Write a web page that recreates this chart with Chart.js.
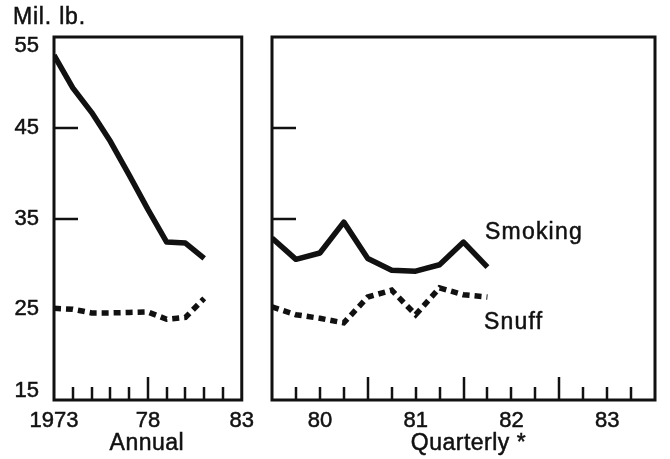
<!DOCTYPE html>
<html><head><meta charset="utf-8">
<script src="https://cdn.jsdelivr.net/npm/chart.js@4"></script>
<style>
html,body{margin:0;padding:0;background:#fff;}
#wrap{position:relative;width:670px;height:459px;overflow:hidden;background:#fff;}
.panel{position:absolute;top:0;height:459px;}
</style></head><body>
<div id="wrap">
  <div class="panel" style="left:0;width:262px"><canvas id="c1"></canvas></div>
  <div class="panel" style="left:262px;width:408px"><canvas id="c2"></canvas></div>
</div>
<script>
// ---- data ----
const annualYears = [1973, 1974, 1975, 1976, 1977, 1978, 1979, 1980, 1981];
const annualSmoking = [53.0, 49.4, 46.7, 43.5, 39.8, 36.0, 32.4, 32.3, 30.6];
const annualSnuff = [25.1, 25.0, 24.6, 24.6, 24.65, 24.7, 23.9, 24.1, 26.2];

const quarterIndex = [0, 1, 2, 3, 4, 5, 6, 7, 8, 9]; // 1980 Q1 ... 1982 Q2
const quarterlySmoking = [32.85, 30.5, 31.2, 34.6, 30.6, 29.3, 29.2, 29.9, 32.4, 29.65];
const quarterlySnuff = [25.25, 24.4, 24.0, 23.5, 26.35, 27.1, 24.4, 27.35, 26.6, 26.35];

const yTickValues = [15, 25, 35, 45, 55];
const yInnerTicks = [35, 45];
const annualLabelYears = [1973, 1978, 1983];
const annualLabelText = ['1973', '78', '83'];
const annualMajorTicks = [1978];
const quarterLabelPos = [2, 6, 10, 14];
const quarterLabelText = ['80', '81', '82', '83'];
const quarterMajorTicks = [4, 8, 12];
const unitLabel = 'Mil. lb.';
const seriesNames = ['Smoking', 'Snuff'];
const axisTitles = ['Annual', 'Quarterly *'];

// ---- styling ----
const FONT = '"Liberation Sans", Arial, Helvetica, sans-serif';
const INK = '#111';
Chart.defaults.font.family = FONT;
Chart.defaults.color = INK;

function drawText(ctx, t) {
  ctx.font = t.size + 'px ' + FONT;
  if ('letterSpacing' in ctx) ctx.letterSpacing = (t.ls || 0) + 'px';
  ctx.textAlign = t.align || 'left';
  ctx.fillText(t.text, t.x, t.y);
  ctx.strokeText(t.text, t.x, t.y);
}

const panelPlugin = {
  id: 'panel',
  afterDatasetsDraw(chart, args, opts) {
    const {ctx, chartArea: a, scales: {x, y}} = chart;
    ctx.save();
    ctx.strokeStyle = INK;
    ctx.lineCap = 'butt';
    ctx.lineWidth = 2.5;
    x.ticks.forEach(t => {
      if (t.value <= x.min || t.value >= x.max) return;
      const px = Math.round(x.getPixelForValue(t.value));
      const len = opts.major.includes(t.value) ? 23 : 13;
      ctx.beginPath(); ctx.moveTo(px, a.bottom); ctx.lineTo(px, a.bottom - len); ctx.stroke();
    });
    yInnerTicks.forEach(v => {
      const py = Math.round(y.getPixelForValue(v));
      ctx.beginPath(); ctx.moveTo(a.left, py); ctx.lineTo(a.left + 24, py); ctx.stroke();
    });
    ctx.lineWidth = 3;
    ctx.strokeRect(a.left, a.top, a.right - a.left, a.bottom - a.top);
    ctx.fillStyle = INK;
    ctx.textBaseline = 'alphabetic';
    ctx.lineWidth = 0.5;
    // axis title centred under the x scale
    drawText(ctx, {text: opts.title, x: (x.left + x.right) / 2 + (opts.titleShift || 0), y: 450, size: 23, align: 'center', ls: 0.5});
    (opts.texts || []).forEach(t => drawText(ctx, t));
    ctx.restore();
  }
};

function toPoints(xs, ys) { return xs.map((v, i) => ({x: v, y: ys[i]})); }

function lineDatasets(xs, smoke, snuff) {
  return [
    {label: seriesNames[0], data: toPoints(xs, smoke), borderColor: INK, borderWidth: 5.5,
     pointRadius: 0, tension: 0, borderJoinStyle: 'round', borderCapStyle: 'butt', fill: false},
    {label: seriesNames[1], data: toPoints(xs, snuff), borderColor: INK, borderWidth: 5.5,
     borderDash: [7, 5], pointRadius: 0, tension: 0, borderJoinStyle: 'miter', borderCapStyle: 'butt', fill: false}
  ];
}

const yScaleBase = {
  min: 15, max: 55,
  afterBuildTicks: s => { s.ticks = yTickValues.map(v => ({value: v})); },
  grid: {display: false, drawTicks: false},
  border: {display: false}
};

const tickStroke = {textStrokeColor: INK, textStrokeWidth: 0.5};

new Chart(document.getElementById('c1'), {
  type: 'line',
  data: {datasets: lineDatasets(annualYears, annualSmoking, annualSnuff)},
  options: {
    responsive: true, maintainAspectRatio: false, animation: false,
    layout: {padding: {top: 37, right: 18, left: 0, bottom: 0}},
    plugins: {legend: {display: false}, tooltip: {enabled: false},
      panel: {major: annualMajorTicks, title: axisTitles[0], titleShift: -1,
        texts: [{text: unitLabel, x: 13, y: 24, size: 23, ls: 0.8}]}},
    scales: {
      x: {type: 'linear', min: 1973, max: 1983,
        ticks: Object.assign({stepSize: 1, autoSkip: false, maxRotation: 0, padding: 8, font: {size: 22},
          callback: v => { const i = annualLabelYears.indexOf(v); return i >= 0 ? annualLabelText[i] : ''; }}, tickStroke),
        grid: {display: false, drawTicks: false}, border: {display: false},
        afterFit: s => { s.height = 59; }},
      y: Object.assign({}, yScaleBase, {
        ticks: Object.assign({padding: 15, font: {size: 22, lineHeight: '18px'},
          callback: v => v === 55 ? ['', '55'] : (v === 15 ? ['15', ''] : String(v))}, tickStroke),
        afterFit: s => { s.width = 54; }})
    }
  },
  plugins: [panelPlugin]
});

new Chart(document.getElementById('c2'), {
  type: 'line',
  data: {datasets: lineDatasets(quarterIndex, quarterlySmoking, quarterlySnuff)},
  options: {
    responsive: true, maintainAspectRatio: false, animation: false,
    layout: {padding: {top: 37, right: 15, left: 10, bottom: 0}},
    plugins: {legend: {display: false}, tooltip: {enabled: false},
      panel: {major: quarterMajorTicks, title: axisTitles[1], titleShift: 5, texts: [
        {text: seriesNames[0], x: 223, y: 239, size: 23, ls: 1.2},
        {text: seriesNames[1], x: 222, y: 329, size: 23, ls: 1.2}
      ]}},
    scales: {
      x: {type: 'linear', min: 0, max: 16,
        ticks: Object.assign({stepSize: 1, autoSkip: false, maxRotation: 0, padding: 8, font: {size: 22},
          callback: v => { const i = quarterLabelPos.indexOf(v); return i >= 0 ? quarterLabelText[i] : ''; }}, tickStroke),
        grid: {display: false, drawTicks: false}, border: {display: false},
        afterFit: s => { s.height = 59; }},
      y: Object.assign({}, yScaleBase, {display: false})
    }
  },
  plugins: [panelPlugin]
});
</script>
</body></html>
